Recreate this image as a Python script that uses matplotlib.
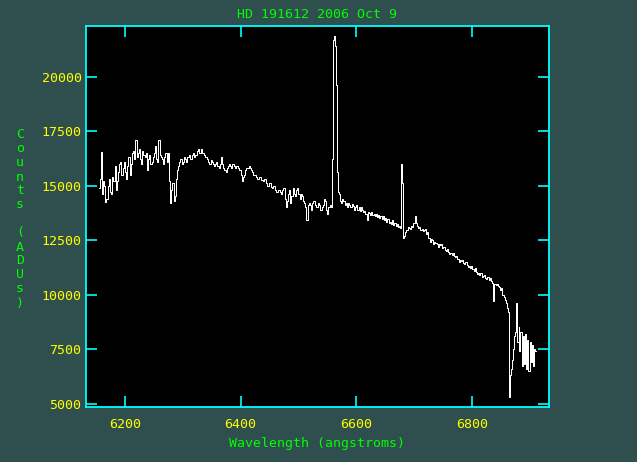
import matplotlib
matplotlib.use("Agg")
import matplotlib.pyplot as plt

# ---- data ----
wavelength = [
    6155, 6157, 6159, 6161, 6163, 6165, 6167, 6169, 6171, 6173,
    6175, 6177, 6179, 6181, 6183, 6185, 6187, 6189, 6191, 6193,
    6195, 6197, 6199, 6201, 6203, 6205, 6207, 6209, 6211, 6213,
    6215, 6217, 6219, 6221, 6223, 6225, 6227, 6229, 6231, 6233,
    6235, 6237, 6239, 6241, 6243, 6245, 6247, 6249, 6251, 6253,
    6255, 6257, 6259, 6261, 6263, 6265, 6267, 6269, 6271, 6273,
    6275, 6277, 6279, 6281, 6283, 6285, 6287, 6289, 6291, 6293,
    6295, 6297, 6299, 6301, 6303, 6305, 6307, 6309, 6311, 6313,
    6315, 6317, 6319, 6321, 6323, 6325, 6327, 6329, 6331, 6333,
    6335, 6337, 6339, 6341, 6343, 6345, 6347, 6349, 6351, 6353,
    6355, 6357, 6359, 6361, 6363, 6365, 6367, 6369, 6371, 6373,
    6375, 6377, 6379, 6381, 6383, 6385, 6387, 6389, 6391, 6393,
    6395, 6397, 6399, 6401, 6403, 6405, 6407, 6409, 6411, 6413,
    6415, 6417, 6419, 6421, 6423, 6425, 6427, 6429, 6431, 6433,
    6435, 6437, 6439, 6441, 6443, 6445, 6447, 6449, 6451, 6453,
    6455, 6457, 6459, 6461, 6463, 6465, 6467, 6469, 6471, 6473,
    6475, 6477, 6479, 6481, 6483, 6485, 6487, 6489, 6491, 6493,
    6495, 6497, 6499, 6501, 6503, 6505, 6507, 6509, 6511, 6513,
    6515, 6517, 6519, 6521, 6523, 6525, 6527, 6529, 6531, 6533,
    6535, 6537, 6539, 6541, 6543, 6545, 6547, 6549, 6551, 6553,
    6555,
    6557, 6559, 6560.5, 6562.5, 6564, 6565.5, 6567, 6569,
    6571, 6573, 6575, 6577, 6579, 6581, 6583, 6585, 6587, 6589,
    6591, 6593, 6595, 6597, 6599, 6601, 6603, 6605, 6607, 6609,
    6611, 6613, 6615, 6617, 6619, 6621, 6623, 6625, 6627, 6629,
    6631, 6633, 6635, 6637, 6639, 6641, 6643, 6645, 6647, 6649,
    6651, 6653, 6655, 6657, 6659, 6661, 6663, 6665, 6667, 6669,
    6671, 6673, 6675,
    6677, 6678.5, 6680, 6682, 6684, 6686,
    6688, 6690, 6692, 6694, 6696, 6698, 6700, 6702, 6704, 6706,
    6708, 6710, 6712, 6714, 6716, 6718, 6720, 6722, 6724, 6726,
    6728, 6730, 6732, 6734, 6736, 6738, 6740, 6742, 6744, 6746,
    6748, 6750, 6752, 6754, 6756, 6758, 6760, 6762, 6764, 6766,
    6768, 6770, 6772, 6774, 6776, 6778, 6780, 6782, 6784, 6786,
    6788, 6790, 6792, 6794, 6796, 6798, 6800, 6802, 6804, 6806,
    6808, 6810, 6812, 6814, 6816, 6818, 6820, 6822, 6824, 6826,
    6828, 6830, 6832, 6834, 6836, 6838, 6840, 6842, 6844, 6846,
    6848, 6850, 6852, 6854, 6856, 6858, 6860, 6862,
    6863.5, 6864.5, 6866, 6868, 6870, 6872, 6874, 6876, 6878, 6880,
    6881.5, 6883, 6885, 6887, 6889, 6891, 6893, 6895, 6897, 6899,
    6901, 6903, 6905, 6907, 6909, 6911,
]
counts = [
    14900, 15300, 16540, 14600, 15200, 15000, 14250, 14400, 15000, 15300,
    14700, 14600, 15400, 15200, 15900, 14800, 15200, 15600, 16000, 16100,
    15500, 15800, 16100, 15600, 15300, 15900, 16300, 15500, 16000, 16500,
    16600, 16200, 17100, 16300, 16500, 16700, 16200, 16000, 16600, 16400,
    16300, 16500, 15700, 16200, 16400, 16000, 16100, 16300, 16500, 16800,
    16200, 16100, 17100, 16400, 16300, 16200, 16000, 16300, 16500, 16100,
    16500, 15200, 14200, 14800, 15100, 14300, 14500, 15300, 15700, 15900,
    16100, 16200, 16000, 16100, 16300, 16200, 16100, 16300, 16400, 16200,
    16200, 16400, 16500, 16300, 16400, 16600, 16700, 16500, 16500, 16700,
    16500, 16400, 16300, 16300, 16200, 16100, 16000, 16150, 16100, 16000,
    15900, 16000, 16100, 15900, 15800, 16000, 16300, 16000, 15800, 15700,
    15600, 15800, 15900, 16000, 15900, 15800, 16000, 15900, 15800, 15900,
    15900, 15800, 15700, 15500, 15200, 15400, 15500, 15700, 15800, 15800,
    15900, 15800, 15700, 15600, 15500, 15500, 15400, 15300, 15300, 15400,
    15400, 15250, 15200, 15300, 15300, 15100, 15000, 15000, 15100, 14950,
    14900, 15000, 15000, 14800, 14700, 14800, 14800, 14700, 14600, 14800,
    14900, 14400, 14000, 14300, 14600, 14800, 14200, 14500, 14900, 14600,
    14500, 14800, 14900, 14600, 14400, 14600, 14500, 14300, 14200, 14000,
    13400, 14100, 14200, 14100, 13900, 14200, 14300, 14100, 14000, 14000,
    14200, 14100, 13900, 14000, 14100, 14400, 14300, 13900, 13700, 14000,
    14100,
    14000, 16200, 21700, 21850, 21400, 19600, 15600, 14700,
    14600, 14300, 14200, 14400, 14300, 14100, 14200, 14000, 14200, 14100,
    14000, 14150, 14050, 13900, 14000, 14100, 13900, 14000, 13850, 14000,
    13900, 13800, 13850, 13700, 13400, 13800, 13750, 13650, 13800, 13650,
    13700, 13600, 13700, 13550, 13650, 13500, 13600, 13450, 13600, 13400,
    13500, 13350, 13450, 13300, 13350, 13250, 13400, 13200, 13300, 13150,
    13250, 13100, 13150,
    13050, 16000, 15100, 12600, 12700, 12850,
    12950, 13100, 13050, 13000, 13150, 13100, 13300, 13600, 13300, 13150,
    13050, 13100, 12950, 13000, 12900, 12950, 13000, 12800, 12850, 12600,
    12400, 12550, 12500, 12300, 12400, 12350, 12300, 12200, 12300, 12250,
    12300, 12150, 12200, 12050, 12000, 12100, 11950, 11850, 11900, 11800,
    11900, 11750, 11700, 11750, 11650, 11500, 11600, 11550, 11600, 11450,
    11400, 11500, 11350, 11250, 11300, 11200, 11300, 11150, 11100, 11200,
    11050, 10950, 11000, 10900, 11000, 10800, 10850, 10900, 10750, 10700,
    10800, 10650, 10750, 10600, 10550, 9700, 10500, 10450, 10500, 10400,
    10350, 10200, 10300, 10000, 9900, 9750, 9600, 9400,
    9200, 5300, 6300, 6600, 7000, 7500, 8100, 8300, 9600, 7800,
    8500, 7400, 8300, 6700, 8100, 6800, 8200, 6600, 7900, 6500,
    7800, 6900, 7700, 6700, 7500, 7400,
]
title = "HD 191612 2006 Oct 9"
xlabel = "Wavelength (angstroms)"
ylabel = "Counts (ADUs)"
xticks = [6200, 6400, 6600, 6800]
yticks = [5000, 7500, 10000, 12500, 15000, 17500, 20000]

BG = "#2f4f4f"
CYAN = "#00ffff"
YEL = "#ffff00"
GRN = "#00ff00"
FONT = "DejaVu Sans Mono"

W, H = 637, 462
fig = plt.figure(figsize=(W / 100, H / 100), dpi=100, facecolor=BG)
ax = fig.add_axes([86 / W, 1 - 407 / H, (549 - 86) / W, (407 - 26) / H])
ax.set_facecolor("black")

ax.plot(wavelength, counts, color="white", lw=0.72, drawstyle="steps-mid",
        antialiased=True)

ax.set_xlim(6132.6, 6933.5)
ax.set_ylim(4840, 22321)
ax.set_xticks(xticks)
ax.set_yticks(yticks)
ax.set_xticklabels([str(v) for v in xticks])
ax.set_yticklabels([str(v) for v in yticks])

for s in ax.spines.values():
    s.set_color(CYAN)
    s.set_linewidth(1.3)

ax.tick_params(which="both", direction="in", top=True, right=True,
               color=CYAN, width=1.2, length=7.7, labelcolor=YEL,
               labelsize=9.5)
ax.tick_params(axis="x", pad=8)
ax.tick_params(axis="y", pad=3.2)
for lab in ax.get_xticklabels() + ax.get_yticklabels():
    lab.set_fontfamily(FONT)

fig.text(317 / W, 1 - 14 / H, title, color=GRN, fontsize=9.5,
         family=FONT, ha="center", va="center")
fig.text(317 / W, 1 - 444 / H, xlabel, color=GRN, fontsize=9.5,
         family=FONT, ha="center", va="center")

# vertical stacked y label
y0, step = 135, 14.0
for k, ch in enumerate(ylabel):
    if ch == " ":
        continue
    fig.text(20 / W, 1 - (y0 + k * step) / H, ch, color=GRN, fontsize=9.5,
             family=FONT, ha="center", va="center")

fig.savefig("out.png", dpi=100, facecolor=BG)
